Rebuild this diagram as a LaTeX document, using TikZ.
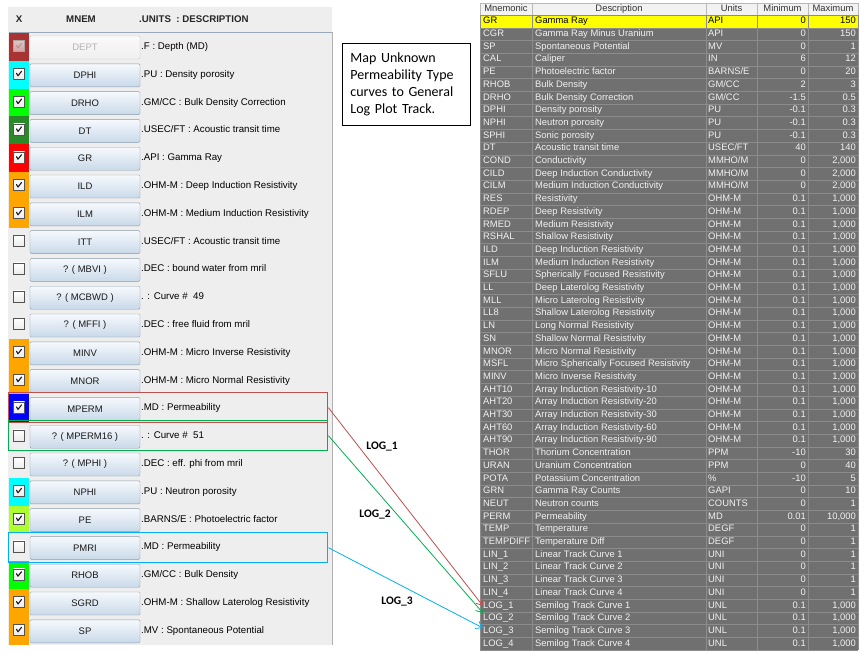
\documentclass[tikz,border=0pt]{standalone}
\usepackage{fontspec}
\setmainfont{Liberation Sans}
\newfontfamily\carl{Carlito}
\usetikzlibrary{arrows.meta}
\definecolor{panelbg}{HTML}{EEEEEE}
\definecolor{hdrline}{HTML}{9AAABB}
\definecolor{btnborder}{HTML}{8A9AAA}
\definecolor{btntop}{HTML}{F6F9FD}
\definecolor{btnbot}{HTML}{C9D9E9}
\definecolor{deptc}{HTML}{A93232}
\definecolor{cyanc}{HTML}{00FFFF}
\definecolor{limec}{HTML}{00FF00}
\definecolor{forestc}{HTML}{2A8A2A}
\definecolor{redc}{HTML}{FF0000}
\definecolor{orangec}{HTML}{FFA500}
\definecolor{bluec}{HTML}{0000FF}
\definecolor{gyc}{HTML}{ADFF2F}
\definecolor{boxred}{HTML}{C0504D}
\definecolor{boxgreen}{HTML}{00B050}
\definecolor{boxblue}{HTML}{00B0F0}
\definecolor{tablebg}{HTML}{707070}
\definecolor{tabtext}{HTML}{F2F2F2}
\definecolor{tabgrid}{HTML}{8C8C8C}
\definecolor{hdrbg}{HTML}{F2F2F2}
\definecolor{yelc}{HTML}{FFFF00}
\tikzset{
 btn/.style={draw=btnborder, rounded corners=1.2pt, top color=btntop, bottom color=btnbot, minimum width=110pt, minimum height=23pt, inner sep=0pt, font=\fontsize{9.5}{11}\selectfont, text=black!90},
 btndis/.style={btn, top color=gray!4, bottom color=gray!12, draw=gray!45, text=gray!60},
 desc/.style={anchor=west, inner sep=0pt, font=\fontsize{9.7}{11}\selectfont, text=black, text height=7pt, text depth=2pt},
 chk/.style={draw=gray!65!black, minimum size=11pt, inner sep=0pt, top color=white, bottom color=gray!15},
 tick/.style={line width=1.1pt, black!90, line cap=round, line join=round},
 hbox/.style={line width=1.4pt, minimum width=319pt, minimum height=30pt, anchor=north west, inner sep=0pt},
 hdrtxt/.style={inner sep=0pt, font=\bfseries\fontsize{9.7}{11}\selectfont, text=black!85, text height=7pt, text depth=2pt},
 tcell/.style={anchor=west, inner sep=0pt, font=\fontsize{9.4}{11}\selectfont, text height=7pt, text depth=2pt},
 tnum/.style={tcell, anchor=east},
 thead/.style={inner sep=0pt, font=\fontsize{9.4}{11}\selectfont, text=black!80, text height=7pt, text depth=2pt},
 arr/.style={line width=0.8pt, -{Straight Barb[length=6pt,width=8pt]}},
 lbl/.style={font=\carl\bfseries\fontsize{11.5}{14}\selectfont, inner sep=0pt, text=black},
 note/.style={draw=black, line width=0.8pt, anchor=north west, minimum width=126pt, minimum height=82pt, align=left, text width=112pt, inner xsep=8pt, font=\carl\fontsize{14}{17}\selectfont}
}
% left panel row: index, cell colour, checked (1/0), mnemonic, description
\newcommand\lrow[5]{%
  \pgfmathsetmacro\rt{33+27.8*#1}%
  \fill[#2] (9,\rt) rectangle (29,\rt+27.8);
  \node[btn] (b#1) at (85,\rt+14.5) {#4};
  \node[desc] (d#1) at (141,\rt+14) {#5};
  \node[chk] (k#1) at (19,\rt+13) {};
  \ifnum#3=1 \draw[tick] (16.5,\rt+12.5) -- (18,\rt+15) -- (21.5,\rt+10.5);\fi
}
% table row: index, text colour, mnemonic, description, units, min, max
\newcommand\trow[7]{%
  \pgfmathsetmacro\ty{15+12.7*#1-6.35}%
  \node[tcell,text=#2] (tm#1) at (483,\ty) {#3};
  \node[tcell,text=#2] (td#1) at (535,\ty) {#4};
  \node[tcell,text=#2] (tu#1) at (708,\ty) {#5};
  \node[tnum,text=#2] (tn#1) at (806,\ty) {#6};
  \node[tnum,text=#2] (tx#1) at (856,\ty) {#7};
}
\newcommand\orow[3]{\trow{#1}{tabtext}{#2}{#3}{OHM-M}{0.1}{1,000}}
\begin{document}
\begin{tikzpicture}[x=1pt,y=-1pt]
\useasboundingbox[fill=white] (0,0) rectangle (865,654);
% ---------- left panel ----------
\fill[panelbg] (8,7) rectangle (332,645);
\draw[hdrline] (9,32) -- (332,32);
\draw[hdrline] (9,32) -- (9,645);
\draw[gray!60] (332,32) -- (332,645);
\node[hdrtxt] (hx) at (19,20) {X};
\node[hdrtxt] (hm) at (81,20) {MNEM};
\node[hdrtxt, anchor=west] (hd) at (139,20) {.UNITS\ \ : DESCRIPTION};
% DEPT (disabled)
\fill[deptc] (9,33) rectangle (29,60.8);
\node[btndis] (b0) at (85,47.5) {DEPT};
\node[desc] (d0) at (141,47) {.F : Depth (MD)};
\node[chk, top color=white!70!deptc, bottom color=white!55!deptc, draw=gray!70] (k0) at (19,46) {};
\draw[tick, draw=gray!75] (16.5,45.5) -- (18,48) -- (21.5,43.5);
\lrow{1}{cyanc}{1}{DPHI}{.PU : Density porosity}
\lrow{2}{limec}{1}{DRHO}{.GM/CC : Bulk Density Correction}
\lrow{3}{forestc}{1}{DT}{.USEC/FT : Acoustic transit time}
\lrow{4}{redc}{1}{GR}{.API : Gamma Ray}
\lrow{5}{orangec}{1}{ILD}{.OHM-M : Deep Induction Resistivity}
\lrow{6}{orangec}{1}{ILM}{.OHM-M : Medium Induction Resistivity}
\lrow{7}{panelbg}{0}{ITT}{.USEC/FT : Acoustic transit time}
\lrow{8}{panelbg}{0}{? ( MBVI )}{.DEC : bound water from mril}
\lrow{9}{panelbg}{0}{? ( MCBWD )}{. : Curve \#\ \ 49}
\lrow{10}{panelbg}{0}{? ( MFFI )}{.DEC : free fluid from mril}
\lrow{11}{orangec}{1}{MINV}{.OHM-M : Micro Inverse Resistivity}
\lrow{12}{orangec}{1}{MNOR}{.OHM-M : Micro Normal Resistivity}
\lrow{13}{bluec}{1}{MPERM}{.MD : Permeability}
\lrow{14}{panelbg}{0}{? ( MPERM16 )}{. : Curve \#\ \ 51}
\lrow{15}{panelbg}{0}{? ( MPHI )}{.DEC : eff. phi from mril}
\lrow{16}{cyanc}{1}{NPHI}{.PU : Neutron porosity}
\lrow{17}{gyc}{1}{PE}{.BARNS/E : Photoelectric factor}
\lrow{18}{panelbg}{0}{PMRI}{.MD : Permeability}
\lrow{19}{limec}{1}{RHOB}{.GM/CC : Bulk Density}
\lrow{20}{orangec}{1}{SGRD}{.OHM-M : Shallow Laterolog Resistivity}
\lrow{21}{orangec}{1}{SP}{.MV : Spontaneous Potential}
% highlight boxes
\node[hbox, draw=boxred] (hl1) at (8,392) {};
\node[hbox, draw=boxgreen] (hl2) at (8,420) {};
\node[hbox, draw=boxblue] (hl3) at (8,532) {};
% ---------- note ----------
\node[note] (nt) at (342,43) {Map Unknown\\Permeability Type\\curves to General\\Log Plot Track.};
% ---------- right table ----------
\fill[tablebg] (480,15) rectangle (858,650);
\fill[yelc] (480,15) rectangle (858,27.7);
\fill[hdrbg] (480,3) rectangle (858,15);
\foreach \i in {0,...,50} \draw[tabgrid] (480,15+12.7*\i) -- (858,15+12.7*\i);
\foreach \xx in {480,532,706,757,808,858} \draw[tabgrid] (\xx,15) -- (\xx,650);
\foreach \xx in {480,532,706,757,808,858} \draw[gray!55] (\xx,3) -- (\xx,15);
\draw[gray!55] (480,3) -- (858,3);
\node[thead] (h1) at (506,9) {Mnemonic};
\node[thead] (h2) at (619,9) {Description};
\node[thead] (h3) at (731.5,9) {Units};
\node[thead] (h4) at (782.5,9) {Minimum};
\node[thead] (h5) at (833,9) {Maximum};
\trow{1}{black}{GR}{Gamma Ray}{API}{0}{150}
\trow{2}{tabtext}{CGR}{Gamma Ray Minus Uranium}{API}{0}{150}
\trow{3}{tabtext}{SP}{Spontaneous Potential}{MV}{0}{1}
\trow{4}{tabtext}{CAL}{Caliper}{IN}{6}{12}
\trow{5}{tabtext}{PE}{Photoelectric factor}{BARNS/E}{0}{20}
\trow{6}{tabtext}{RHOB}{Bulk Density}{GM/CC}{2}{3}
\trow{7}{tabtext}{DRHO}{Bulk Density Correction}{GM/CC}{-1.5}{0.5}
\trow{8}{tabtext}{DPHI}{Density porosity}{PU}{-0.1}{0.3}
\trow{9}{tabtext}{NPHI}{Neutron porosity}{PU}{-0.1}{0.3}
\trow{10}{tabtext}{SPHI}{Sonic porosity}{PU}{-0.1}{0.3}
\trow{11}{tabtext}{DT}{Acoustic transit time}{USEC/FT}{40}{140}
\trow{12}{tabtext}{COND}{Conductivity}{MMHO/M}{0}{2,000}
\trow{13}{tabtext}{CILD}{Deep Induction Conductivity}{MMHO/M}{0}{2,000}
\trow{14}{tabtext}{CILM}{Medium Induction Conductivity}{MMHO/M}{0}{2,000}
\orow{15}{RES}{Resistivity}
\orow{16}{RDEP}{Deep Resistivity}
\orow{17}{RMED}{Medium Resistivity}
\orow{18}{RSHAL}{Shallow Resistivity}
\orow{19}{ILD}{Deep Induction Resistivity}
\orow{20}{ILM}{Medium Induction Resistivity}
\orow{21}{SFLU}{Spherically Focused Resistivity}
\orow{22}{LL}{Deep Laterolog Resistivity}
\orow{23}{MLL}{Micro Laterolog Resistivity}
\orow{24}{LL8}{Shallow Laterolog Resistivity}
\orow{25}{LN}{Long Normal Resistivity}
\orow{26}{SN}{Shallow Normal Resistivity}
\orow{27}{MNOR}{Micro Normal Resistivity}
\orow{28}{MSFL}{Micro Spherically Focused Resistivity}
\orow{29}{MINV}{Micro Inverse Resistivity}
\orow{30}{AHT10}{Array Induction Resistivity-10}
\orow{31}{AHT20}{Array Induction Resistivity-20}
\orow{32}{AHT30}{Array Induction Resistivity-30}
\orow{33}{AHT60}{Array Induction Resistivity-60}
\orow{34}{AHT90}{Array Induction Resistivity-90}
\trow{35}{tabtext}{THOR}{Thorium Concentration}{PPM}{-10}{30}
\trow{36}{tabtext}{URAN}{Uranium Concentration}{PPM}{0}{40}
\trow{37}{tabtext}{POTA}{Potassium Concentration}{\%}{-10}{5}
\trow{38}{tabtext}{GRN}{Gamma Ray Counts}{GAPI}{0}{10}
\trow{39}{tabtext}{NEUT}{Neutron counts}{COUNTS}{0}{1}
\trow{40}{tabtext}{PERM}{Permeability}{MD}{0.01}{10,000}
\trow{41}{tabtext}{TEMP}{Temperature}{DEGF}{0}{1}
\trow{42}{tabtext}{TEMPDIFF}{Temperature Diff}{DEGF}{0}{1}
\trow{43}{tabtext}{LIN\_1}{Linear Track Curve 1}{UNI}{0}{1}
\trow{44}{tabtext}{LIN\_2}{Linear Track Curve 2}{UNI}{0}{1}
\trow{45}{tabtext}{LIN\_3}{Linear Track Curve 3}{UNI}{0}{1}
\trow{46}{tabtext}{LIN\_4}{Linear Track Curve 4}{UNI}{0}{1}
\trow{47}{tabtext}{LOG\_1}{Semilog Track Curve 1}{UNL}{0.1}{1,000}
\trow{48}{tabtext}{LOG\_2}{Semilog Track Curve 2}{UNL}{0.1}{1,000}
\trow{49}{tabtext}{LOG\_3}{Semilog Track Curve 3}{UNL}{0.1}{1,000}
\trow{50}{tabtext}{LOG\_4}{Semilog Track Curve 4}{UNL}{0.1}{1,000}
% ---------- arrows ----------
\coordinate (e1) at (483,606);
\coordinate (e2) at (483,613);
\coordinate (e3) at (483,628);
\draw[arr, boxred] (hl1.east) -- (e1);
\draw[arr, boxgreen] (hl2.east) -- (e2);
\draw[arr, boxblue] (hl3.east) -- (e3);
\node[lbl] (l1) at (382,447) {LOG\_1};
\node[lbl] (l2) at (375,515) {LOG\_2};
\node[lbl] (l3) at (397,602) {LOG\_3};
\end{tikzpicture}
\end{document}
